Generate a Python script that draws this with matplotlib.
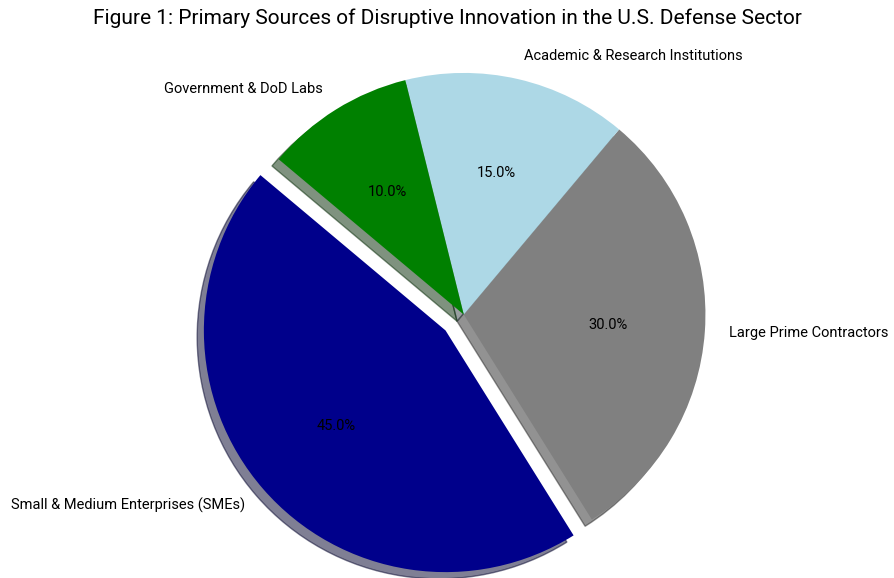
import matplotlib.pyplot as plt

plt.rcParams['font.family'] = ['Roboto', 'DejaVu Sans']

# data
labels = ["Small & Medium Enterprises (SMEs)", "Large Prime Contractors",
          "Academic & Research Institutions", "Government & DoD Labs"]
shares = [45, 30, 15, 10]
colors = ["darkblue", "grey", "lightblue", "green"]
explode = [0.1, 0, 0, 0]

fig, ax = plt.subplots(figsize=(8.95, 5.78), dpi=100)
ax.pie(shares, labels=labels, colors=colors, explode=explode,
       autopct="%1.1f%%", shadow=True, startangle=140,
       textprops={"fontsize": 10.5})
ax.axis("equal")
fig.suptitle("Figure 1: Primary Sources of Disruptive Innovation in the U.S. Defense Sector",
             fontsize=15, y=0.985)
fig.subplots_adjust(left=0.012, right=1.004, top=0.917, bottom=-0.033)
plt.savefig("out.png")
